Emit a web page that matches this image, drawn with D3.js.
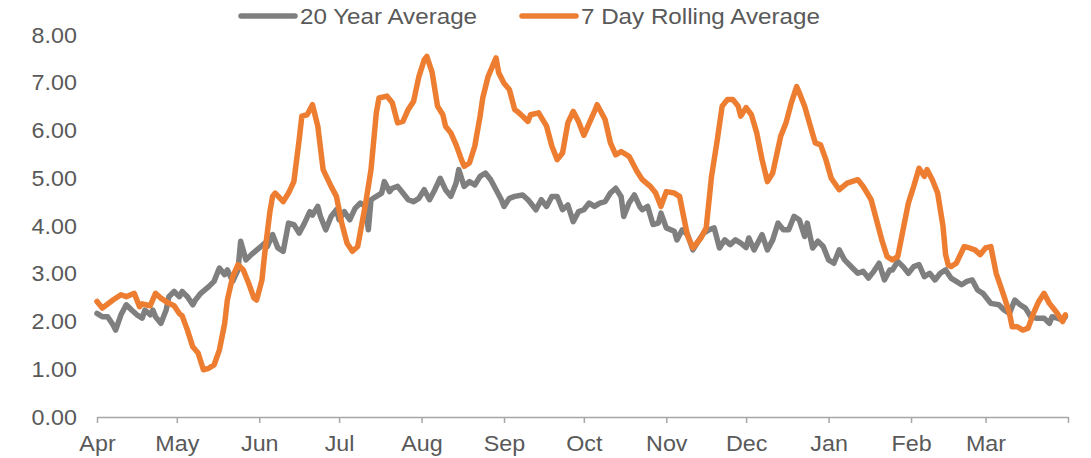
<!DOCTYPE html>
<html>
<head>
<meta charset="utf-8">
<script src="https://cdn.jsdelivr.net/npm/d3@7"></script>
<style>
  body { margin: 0; background: #fff; }
  text { font-family: "Liberation Sans", Arial, sans-serif; fill: #595959; }
</style>
</head>
<body>
<script>
// Values: [days since 1 Apr, value]
var greyPoints = [[0,2.17],[2,2.10],[4,2.10],[6,1.93],[7,1.82],[9,2.14],[11,2.35],[13,2.24],[15,2.14],[17,2.07],
  [18,2.24],[20,2.14],[21,2.24],[22,2.10],[24,1.96],[26,2.24],[27,2.52],[29,2.63],[31,2.52],[32,2.63],
  [34,2.52],[36,2.35],[37,2.45],[39,2.59],[42,2.73],[44,2.84],[46,3.12],[48,2.98],[49,3.08],[51,2.84],
  [53,3.08],[54,3.68],[56,3.29],[58,3.40],[61,3.54],[63,3.64],[64,3.57],[66,3.82],[68,3.54],[70,3.47],
  [72,4.06],[74,4.03],[76,3.85],[78,4.06],[80,4.30],[81,4.23],[83,4.41],[84,4.20],[86,3.92],[88,4.20],
  [90,4.34],[91,4.13],[93,4.30],[95,4.13],[97,4.37],[99,4.48],[101,4.41],[102,3.92],[103,4.55],[105,4.62],
  [107,4.69],[108,4.93],[110,4.72],[111,4.79],[113,4.83],[115,4.69],[117,4.55],[119,4.51],[121,4.58],[123,4.76],
  [125,4.55],[127,4.76],[129,5.00],[131,4.76],[133,4.62],[135,4.90],[136,5.18],[138,4.83],[140,4.93],[142,4.86],
  [144,5.04],[146,5.11],[148,4.97],[150,4.76],[152,4.55],[153,4.41],[155,4.58],[157,4.62],[160,4.65],[162,4.55],
  [163,4.48],[165,4.34],[167,4.55],[169,4.41],[171,4.62],[173,4.62],[175,4.34],[177,4.44],[179,4.09],[181,4.30],
  [183,4.34],[185,4.48],[187,4.41],[189,4.48],[191,4.51],[193,4.69],[195,4.79],[197,4.62],[198,4.20],[200,4.48],
  [202,4.65],[204,4.41],[205,4.34],[207,4.41],[209,4.03],[211,4.06],[212,4.27],[214,3.96],[217,3.89],[218,3.71],
  [220,3.92],[222,3.82],[224,3.50],[226,3.68],[228,3.85],[230,3.92],[232,3.96],[234,3.54],[236,3.71],[238,3.61],
  [240,3.71],[242,3.64],[244,3.55],[245,3.75],[247,3.50],[250,3.82],[252,3.50],[254,3.71],[256,4.06],[258,3.92],
  [260,3.92],[262,4.20],[264,4.13],[266,3.78],[267,4.06],[269,3.54],[271,3.68],[273,3.57],[275,3.29],[277,3.22],
  [279,3.50],[281,3.29],[284,3.12],[286,3.01],[288,3.05],[290,2.91],[292,3.05],[294,3.22],[296,2.87],[298,3.08],
  [299,3.08],[301,3.26],[303,3.15],[305,3.01],[307,3.15],[309,3.19],[311,2.94],[313,3.01],[315,2.87],[317,3.01],
  [319,3.08],[321,2.91],[323,2.84],[325,2.77],[327,2.84],[329,2.87],[331,2.66],[333,2.59],[335,2.45],[336,2.38],
  [339,2.35],[341,2.24],[343,2.17],[345,2.45],[347,2.35],[349,2.28],[351,2.10],[353,2.07],[356,2.07],[358,1.96],
  [359,2.10],[361,2.07],[363,2.03],[364,2.10]];

var orangePoints = [[0,2.42],[2,2.28],[6,2.45],[9,2.56],[11,2.52],[14,2.59],[16,2.31],[17,2.37],[20,2.33],[22,2.59],
  [24,2.49],[27,2.38],[29,2.33],[31,2.16],[32,2.12],[34,1.82],[36,1.47],[38,1.34],[40,0.99],[42,1.02],
  [44,1.09],[46,1.40],[48,1.96],[49,2.45],[51,2.94],[53,3.19],[55,3.08],[57,2.80],[59,2.49],[60,2.45],
  [62,2.87],[63,3.40],[65,4.30],[66,4.62],[67,4.69],[70,4.51],[72,4.69],[74,4.93],[76,5.81],[77,6.30],
  [79,6.33],[81,6.54],[83,6.09],[85,5.18],[88,4.83],[90,4.62],[92,4.06],[94,3.64],[96,3.47],[98,3.57],
  [101,4.48],[103,5.18],[105,6.37],[106,6.68],[109,6.72],[111,6.58],[113,6.16],[115,6.19],[117,6.44],[119,6.61],
  [121,7.13],[123,7.48],[124,7.55],[126,7.21],[128,6.51],[130,6.33],[131,6.09],[133,5.95],[135,5.70],[137,5.39],
  [138,5.25],[140,5.32],[142,5.67],[144,6.30],[145,6.68],[147,7.13],[150,7.52],[151,7.21],[153,6.99],[155,6.86],
  [157,6.44],[158,6.40],[160,6.30],[162,6.19],[163,6.33],[166,6.37],[169,6.09],[171,5.67],[173,5.39],[175,5.53],
  [177,6.16],[179,6.40],[181,6.19],[183,5.90],[187,6.40],[188,6.54],[191,6.23],[193,5.74],[195,5.49],[197,5.56],
  [200,5.46],[203,5.14],[205,4.97],[208,4.83],[210,4.69],[212,4.41],[214,4.72],[217,4.69],[219,4.62],[221,4.06],
  [222,3.80],[224,3.54],[227,3.75],[229,3.96],[231,5.04],[233,5.74],[235,6.51],[237,6.65],[239,6.65],[241,6.51],
  [242,6.30],[244,6.48],[246,6.33],[248,5.95],[250,5.39],[252,4.93],[254,5.11],[257,5.88],[259,6.16],[261,6.58],
  [263,6.92],[264,6.79],[266,6.51],[268,6.12],[270,5.74],[272,5.70],[274,5.39],[276,5.00],[279,4.76],[282,4.90],
  [286,4.97],[288,4.83],[291,4.55],[293,4.13],[295,3.71],[297,3.36],[299,3.29],[301,3.36],[303,3.92],[305,4.48],
  [307,4.83],[309,5.21],[311,5.04],[312,5.18],[314,4.97],[316,4.69],[318,4.00],[319,3.40],[320,3.18],[321,3.15],
  [323,3.22],[326,3.57],[328,3.54],[330,3.50],[332,3.40],[334,3.54],[336,3.57],[338,3.01],[341,2.52],[343,2.17],
  [344,1.89],[346,1.89],[348,1.82],[350,1.86],[352,2.17],[354,2.42],[356,2.59],[358,2.38],[360,2.24],[361,2.17],
  [363,2.00],[364,2.14]];

var seriesNames = ["20 Year Average", "7 Day Rolling Average"];
var seriesColors = ["#7f7f7f", "#ed7d31"];
var yTicks = [0, 1, 2, 3, 4, 5, 6, 7, 8];

var width = 1091, height = 458;
var plot = {left: 97, right: 1068, top: 35, bottom: 417};
var stretch = 1.06; // the reference text is a little wider than Liberation Sans
var legendStretch = 1.1;

var start = new Date(Date.UTC(2021, 3, 1));
var end = d3.utcDay.offset(start, 365);
function toDate(d) { return d3.utcDay.offset(start, d); }

var x = d3.scaleUtc().domain([start, end]).range([plot.left, plot.right]);
var y = d3.scaleLinear().domain([0, 8]).range([plot.bottom, plot.top]);

var svg = d3.select("body").append("svg")
    .attr("width", width)
    .attr("height", height);

// x axis with month ticks, no label on the last tick
var xAxis = svg.append("g")
    .attr("transform", "translate(0," + plot.bottom + ")")
    .call(d3.axisBottom(x)
      .ticks(d3.utcMonth.every(1))
      .tickSize(6)
      .tickSizeOuter(0)
      .tickPadding(12)
      .tickFormat(function(d) { return +d >= +end ? "" : d3.utcFormat("%b")(d); }));
xAxis.select(".domain").attr("stroke", "#a6a6a6").attr("stroke-width", 1.5);
xAxis.selectAll(".tick line").attr("stroke", "#a6a6a6").attr("stroke-width", 1.5);
xAxis.selectAll(".tick text")
    .attr("font-size", "22px")
    .attr("fill", "#595959")
    .attr("font-family", "Liberation Sans, Arial, sans-serif")
    .attr("transform", "scale(" + stretch + ",1)");

// y axis: labels only
var yAxis = svg.append("g")
    .attr("transform", "translate(" + plot.left + ",0)")
    .call(d3.axisLeft(y)
      .tickValues(yTicks)
      .tickSize(0)
      .tickPadding(19)
      .tickFormat(d3.format(".2f")));
yAxis.select(".domain").remove();
yAxis.selectAll(".tick text")
    .attr("font-size", "22px")
    .attr("fill", "#595959")
    .attr("font-family", "Liberation Sans, Arial, sans-serif")
    .attr("transform", "scale(" + stretch + ",1)");

var line = d3.line()
    .x(function(d) { return x(toDate(d[0])); })
    .y(function(d) { return y(d[1]); });

svg.append("path")
    .datum(greyPoints)
    .attr("fill", "none")
    .attr("stroke", seriesColors[0])
    .attr("stroke-width", 5.5)
    .attr("stroke-linejoin", "round")
    .attr("stroke-linecap", "round")
    .attr("d", line);

svg.append("path")
    .datum(orangePoints)
    .attr("fill", "none")
    .attr("stroke", seriesColors[1])
    .attr("stroke-width", 5.5)
    .attr("stroke-linejoin", "round")
    .attr("stroke-linecap", "round")
    .attr("d", line);

// legend
var legendX = [241, 522];
var legend = svg.selectAll(".legend")
    .data(seriesNames)
    .enter().append("g")
    .attr("class", "legend")
    .attr("transform", function(d, i) { return "translate(" + legendX[i] + ",16)"; });

legend.append("line")
    .attr("x1", 0).attr("x2", 54)
    .attr("y1", 0).attr("y2", 0)
    .attr("stroke", function(d, i) { return seriesColors[i]; })
    .attr("stroke-width", 5.5)
    .attr("stroke-linecap", "round");

legend.append("text")
    .attr("x", 59 / legendStretch)
    .attr("y", 8)
    .attr("font-size", "22px")
    .attr("transform", "scale(" + legendStretch + ",1)")
    .text(function(d) { return d; });
</script>
</body>
</html>
